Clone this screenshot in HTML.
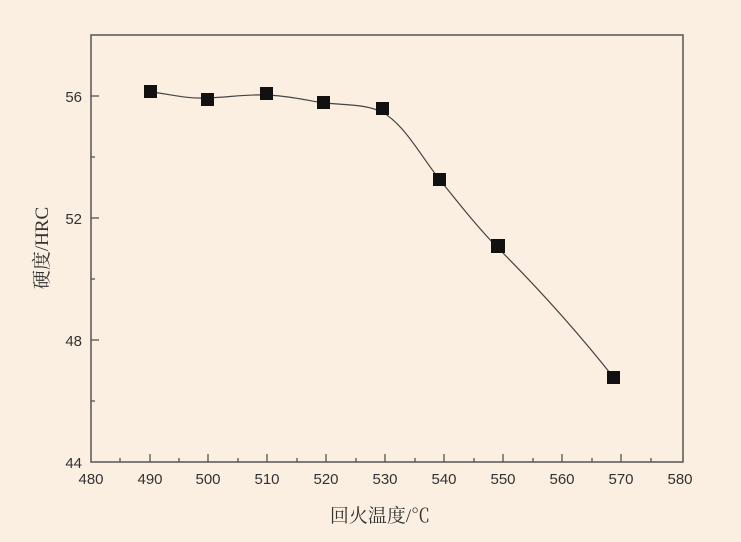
<!DOCTYPE html>
<html><head><meta charset="utf-8"><style>
html,body{margin:0;padding:0;background:#faefe1;}
svg{display:block}
text{font-family:"Liberation Sans","Noto Sans CJK SC",sans-serif;fill:#333;}
text.serif{font-family:"Liberation Serif","Noto Serif CJK SC",serif;}
</style></head><body>
<svg width="741" height="542" viewBox="0 0 741 542">
<rect width="741" height="542" fill="#faefe1"/>
<rect x="91" y="35" width="592" height="427" fill="none" stroke="#555" stroke-width="1.5"/>
<g stroke="#555" stroke-width="1.3">
<line x1="91" y1="96" x2="99" y2="96"/><line x1="91" y1="218" x2="99" y2="218"/><line x1="91" y1="340" x2="99" y2="340"/>
<line x1="91" y1="157" x2="95" y2="157"/><line x1="91" y1="279" x2="95" y2="279"/><line x1="91" y1="401" x2="95" y2="401"/>
<line x1="150" y1="462" x2="150" y2="454"/><line x1="208" y1="462" x2="208" y2="454"/><line x1="267" y1="462" x2="267" y2="454"/><line x1="326" y1="462" x2="326" y2="454"/><line x1="385" y1="462" x2="385" y2="454"/><line x1="444" y1="462" x2="444" y2="454"/><line x1="503" y1="462" x2="503" y2="454"/><line x1="562" y1="462" x2="562" y2="454"/><line x1="621" y1="462" x2="621" y2="454"/>
<line x1="120" y1="462" x2="120" y2="458"/><line x1="179" y1="462" x2="179" y2="458"/><line x1="238" y1="462" x2="238" y2="458"/><line x1="297" y1="462" x2="297" y2="458"/><line x1="356" y1="462" x2="356" y2="458"/><line x1="415" y1="462" x2="415" y2="458"/><line x1="474" y1="462" x2="474" y2="458"/><line x1="533" y1="462" x2="533" y2="458"/><line x1="592" y1="462" x2="592" y2="458"/><line x1="651" y1="462" x2="651" y2="458"/>
</g>
<g font-size="15" text-anchor="end">
<text x="82" y="102">56</text><text x="82" y="224">52</text><text x="82" y="346">48</text><text x="82" y="468">44</text>
</g>
<g font-size="15" text-anchor="middle">
<text x="91" y="484">480</text><text x="150" y="484">490</text><text x="208" y="484">500</text><text x="267" y="484">510</text><text x="326" y="484">520</text><text x="385" y="484">530</text><text x="444" y="484">540</text><text x="503" y="484">550</text><text x="562" y="484">560</text><text x="621" y="484">570</text><text x="680" y="484">580</text>
</g>
<text class="serif" x="380" y="522" font-size="19" text-anchor="middle">回火温度/℃</text>
<text class="serif" transform="translate(48,248) rotate(-90)" font-size="19" text-anchor="middle">硬度/HRC</text>
<path d="M151,92 C170,94 185,99 208,98 C230,97 250,94 266,95 C290,96 305,100 324,103 C345,105 365,104 382,112 C405,125 420,155 440,180 C460,205 480,230 498,248 C540,290 580,335 614,378" fill="none" stroke="#444" stroke-width="1.2"/>
<g fill="#111">
<rect x="144" y="85" width="13" height="13"/><rect x="201" y="93" width="13" height="13"/><rect x="260" y="87" width="13" height="13"/><rect x="317" y="96" width="13" height="13"/><rect x="376" y="102" width="13" height="13"/><rect x="433" y="173" width="13" height="13"/><rect x="491" y="239" width="14" height="14"/><rect x="607" y="371" width="13" height="13"/>
</g>
</svg>
</body></html>
